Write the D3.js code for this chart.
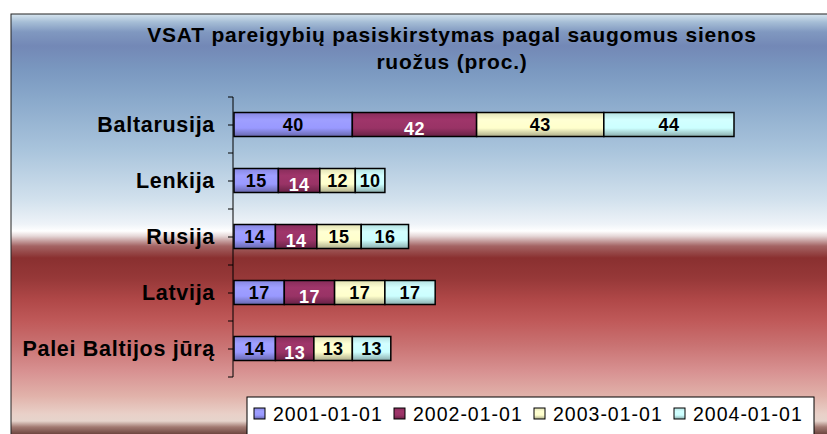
<!DOCTYPE html>
<html>
<head>
<meta charset="utf-8">
<script src="https://cdn.jsdelivr.net/npm/d3@7"></script>
<style>
  body { margin: 0; background: #fff; }
  svg { display: block; font-family: Arial, "Liberation Sans", sans-serif; }
</style>
</head>
<body>
<svg id="chart" width="827" height="434"></svg>
<script>
// data
const categories = ["Baltarusija", "Lenkija", "Rusija", "Latvija", "Palei Baltijos jūrą"];
const seriesNames = ["2001-01-01", "2002-01-01", "2003-01-01", "2004-01-01"];
const v2001 = [40, 15, 14, 17, 14];
const v2002 = [42, 14, 14, 17, 13];
const v2003 = [43, 12, 15, 17, 13];
const v2004 = [44, 10, 16, 17, 13];
const seriesColors = ["#9999ff", "#993366", "#ffffcc", "#ccffff"];
const labelColors = ["#000", "#fff", "#000", "#000"];
const titleLines = ["VSAT pareigybių pasiskirstymas pagal saugomus sienos", "ruožus (proc.)"];

const width = 827, height = 434;
const svg = d3.select("#chart");
const defs = svg.append("defs");

// background of the chart area: blue on top, white band, red below
const bg = defs.append("linearGradient")
    .attr("id", "bg")
    .attr("gradientUnits", "userSpaceOnUse")
    .attr("x1", 0).attr("x2", 0)
    .attr("y1", 14).attr("y2", 434);
const bgStops = [
    [14, "#d8e6f0"], [22, "#a6bed6"], [32, "#8098c0"], [46, "#7388b6"],
    [70, "#7a98c0"], [100, "#8aa9cb"], [150, "#a9c4dc"], [200, "#d2e1ed"],
    [224, "#eef3f8"], [231, "#ffffff"], [236, "#e6d8d8"], [246, "#a46464"],
    [258, "#8a3030"], [278, "#963838"], [300, "#b04848"], [322, "#c05a5a"],
    [345, "#c97272"], [372, "#d89292"], [396, "#e1b2aa"], [414, "#e9d0c8"],
    [421, "#e6d4cc"], [427, "#a27a72"], [434, "#6e4640"]
];
bgStops.forEach(([y, c]) => bg.append("stop")
    .attr("offset", (y - 14) / (434 - 14)).attr("stop-color", c));

svg.append("rect")
    .attr("x", 11).attr("y", 14)
    .attr("width", width + 10).attr("height", height)
    .attr("fill", "url(#bg)")
    .attr("stroke", "#222").attr("stroke-width", 1);

// shaded fills for the bars
seriesColors.forEach((c, i) => {
    const g = defs.append("linearGradient")
        .attr("id", "s" + i).attr("x1", 0).attr("y1", 0).attr("x2", 0).attr("y2", 1);
    g.append("stop").attr("offset", 0).attr("stop-color", d3.color(c).darker(0.35));
    g.append("stop").attr("offset", 0.3).attr("stop-color", d3.color(c).brighter(0.1));
    g.append("stop").attr("offset", 0.65).attr("stop-color", c);
    g.append("stop").attr("offset", 1).attr("stop-color", d3.color(c).darker(1.1));
});

// title
svg.append("g").selectAll("text")
    .data(titleLines)
    .enter()
    .append("text")
    .attr("x", 452)
    .attr("y", (d, i) => 42 + i * 26.5)
    .attr("text-anchor", "middle")
    .attr("font-size", 21)
    .attr("font-weight", "bold")
    .attr("letter-spacing", 0.8)
    .text(d => d);

// scales
const x = d3.scaleLinear().domain([0, 169]).range([234, 734]);
const y = d3.scaleBand().domain(categories).range([97, 377]);
const barH = 24;

const rows = categories.map((c, i) => ({
    cat: c,
    [seriesNames[0]]: v2001[i],
    [seriesNames[1]]: v2002[i],
    [seriesNames[2]]: v2003[i],
    [seriesNames[3]]: v2004[i]
}));
const stacked = d3.stack().keys(seriesNames)(rows);

// category axis
const axis = svg.append("g")
    .attr("transform", "translate(233,0)")
    .call(d3.axisLeft(y).tickSize(5).tickPadding(13));
axis.select(".domain").attr("stroke", "#000").attr("d", "M-5,97H0V377H-5");
axis.selectAll(".tick line").attr("stroke", "#000");
axis.selectAll(".tick text")
    .attr("font-size", 21.5)
    .attr("font-weight", "bold")
    .attr("letter-spacing", 0.7)
    .attr("fill", "#000")
    .attr("font-family", "Arial, 'Liberation Sans', sans-serif");
// boundary ticks between categories
axis.selectAll(".bound")
    .data(categories.slice(1))
    .enter()
    .append("line")
    .attr("class", "bound")
    .attr("x1", -5).attr("x2", 0)
    .attr("y1", d => y(d)).attr("y2", d => y(d))
    .attr("stroke", "#000");

// bars
const layers = svg.append("g").selectAll("g")
    .data(stacked)
    .enter()
    .append("g");

layers.selectAll("rect")
    .data((d, i) => d.map(p => ({ p, i })))
    .enter()
    .append("rect")
    .attr("x", d => x(d.p[0]))
    .attr("y", d => y(d.p.data.cat) + y.bandwidth() / 2 - barH / 2 - 0.5)
    .attr("width", d => x(d.p[1]) - x(d.p[0]))
    .attr("height", barH)
    .attr("fill", d => "url(#s" + d.i + ")")
    .attr("stroke", "#000")
    .attr("stroke-width", 1.5);

layers.selectAll("text")
    .data((d, i) => d.map(p => ({ p, i })))
    .enter()
    .append("text")
    .attr("x", d => (x(d.p[0]) + x(d.p[1])) / 2)
    .attr("y", d => y(d.p.data.cat) + y.bandwidth() / 2 + (d.i === 1 ? 9.5 : 5.5))
    .attr("text-anchor", "middle")
    .attr("font-size", 18)
    .attr("font-weight", "bold")
    .attr("letter-spacing", 0.4)
    .attr("fill", d => labelColors[d.i])
    .text(d => d.p[1] - d.p[0]);

// legend
const legend = svg.append("g");
legend.append("rect")
    .attr("x", 247).attr("y", 397)
    .attr("width", 567).attr("height", 60)
    .attr("fill", "#fff")
    .attr("stroke", "#000").attr("stroke-width", 1);

const item = legend.selectAll("g.item")
    .data(seriesNames)
    .enter()
    .append("g")
    .attr("class", "item")
    .attr("transform", (d, i) => `translate(${254 + i * 140},0)`);

item.append("rect")
    .attr("x", 0).attr("y", 408)
    .attr("width", 11).attr("height", 11)
    .attr("fill", (d, i) => "url(#s" + i + ")")
    .attr("stroke", "#000");

item.append("text")
    .attr("x", 19).attr("y", 421)
    .attr("font-size", 19.5)
    .attr("letter-spacing", 1)
    .text(d => d);
</script>
</body>
</html>
